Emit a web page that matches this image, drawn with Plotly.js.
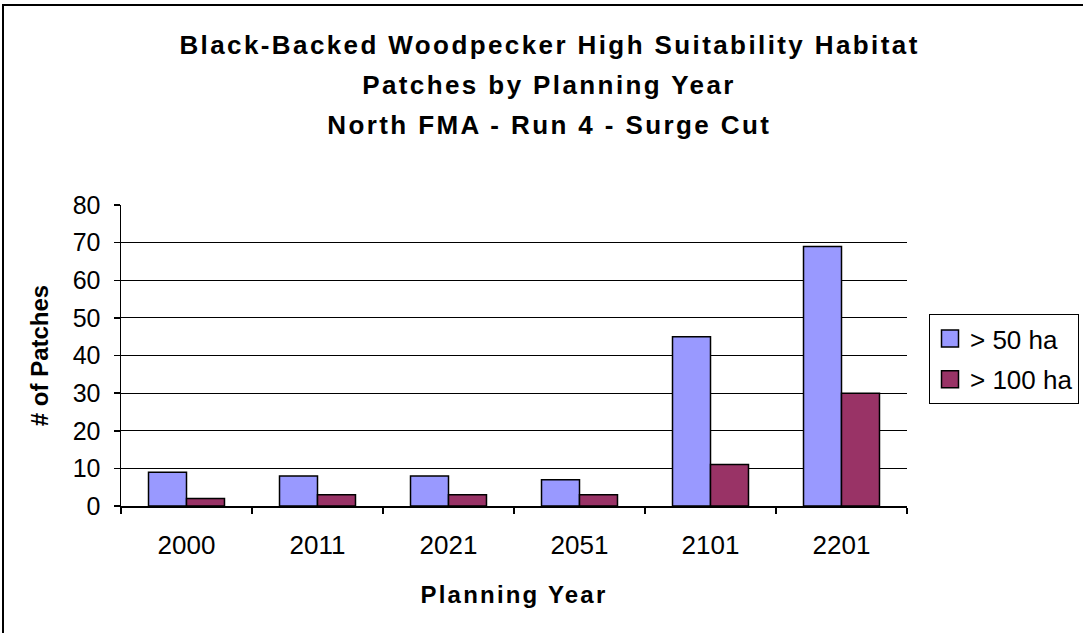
<!DOCTYPE html>
<html>
<head>
<meta charset="utf-8">
<script src="https://cdn.plot.ly/plotly-3.0.1.min.js"></script>
<style>
html,body{margin:0;padding:0;background:#fff;}
#wrap{position:relative;width:1083px;height:633px;overflow:hidden;}
#chart{position:absolute;left:0;top:0;width:1083px;height:633px;}
#frame{position:absolute;left:2px;top:4px;width:1200px;height:800px;border-top:2px solid #000;border-left:2px solid #000;pointer-events:none;}
#chart .annotation-text{letter-spacing:2.4px;}
#chart .xtitle{letter-spacing:2.2px;}
#chart path.legendbar, #chart .legendpoints path{d:path("M8.5,8.5H-8.5V-8.5H8.5Z");}
</style>
</head>
<body>
<div id="wrap"><div id="chart"></div><div id="frame"></div></div>
<script>
const years = ["2000", "2011", "2021", "2051", "2101", "2201"];
const over50 = [9, 8, 8, 7, 45, 69];
const over100 = [2, 3, 3, 3, 11, 30];
const seriesNames = ["> 50 ha", "> 100 ha"];
const titleLines = [
  "Black-Backed Woodpecker High Suitability Habitat",
  "Patches by Planning Year",
  "North FMA - Run 4 - Surge Cut"
];

const FONT = "Liberation Sans, Arial, sans-serif";
const L = 121, R = 176, T = 205, B = 127;
const W = 1083, H = 633;
const plotW = W - L - R, plotH = H - T - B;
const px = x => (x - L) / plotW;
const py = y => (H - B - y) / plotH;

const traces = [
  {type: "bar", x: years, y: over50, name: seriesNames[0], legendgroup: "a",
   marker: {color: "#9999FF", line: {color: "#000", width: 1.5}}},
  {type: "bar", x: years, y: over100, name: seriesNames[1], legendgroup: "b",
   marker: {color: "#993366", line: {color: "#000", width: 1.5}}}
];

const titleY = [45, 85, 125];
const annotations = titleLines.map((t, i) => ({
  text: "<b>" + t + "</b>", xref: "paper", yref: "paper",
  x: px(549), y: py(titleY[i]), xanchor: "center", yanchor: "middle",
  showarrow: false, font: {family: FONT, size: 26, color: "#000"}
}));

const layout = {
  width: W, height: H,
  margin: {l: L, r: R, t: T, b: B, pad: 0, autoexpand: false},
  paper_bgcolor: "#fff", plot_bgcolor: "#fff",
  font: {family: FONT, size: 20, color: "#000"},
  barmode: "group", bargap: 0.42, bargroupgap: 0,
  showlegend: true,
  legend: {xref: "container", yref: "container",
           x: 929 / W, y: 1 - 314 / H, xanchor: "left", yanchor: "top",
           bordercolor: "#000", borderwidth: 1, bgcolor: "#fff",
           font: {family: FONT, size: 26, color: "#000"},
           itemwidth: 30,
           traceorder: "grouped", tracegroupgap: 4},
  xaxis: {type: "category", showgrid: false, zeroline: false,
          showline: true, linecolor: "#000", linewidth: 1.5,
          ticks: "outside", tickson: "boundaries", ticklen: 6, tickcolor: "#000", tickwidth: 1.5,
          tickfont: {family: FONT, size: 26}, ticklabelstandoff: 15,
          title: {text: "<b>Planning Year</b>", font: {family: FONT, size: 24}, standoff: 27},
          automargin: false, fixedrange: true},
  yaxis: {range: [0, 80], dtick: 10, showgrid: true, gridcolor: "#000", gridwidth: 1.2,
          zeroline: false, showline: true, linecolor: "#000", linewidth: 1.5,
          ticks: "outside", ticklen: 6, tickcolor: "#000", tickwidth: 1.5,
          tickfont: {family: FONT, size: 25}, ticklabelstandoff: 8,
          title: {text: "<b># of Patches</b>", font: {family: FONT, size: 24}, standoff: 17},
          automargin: false, fixedrange: true},
  annotations: annotations
};

Plotly.newPlot("chart", traces, layout, {displayModeBar: false, staticPlot: true});
</script>
</body>
</html>
